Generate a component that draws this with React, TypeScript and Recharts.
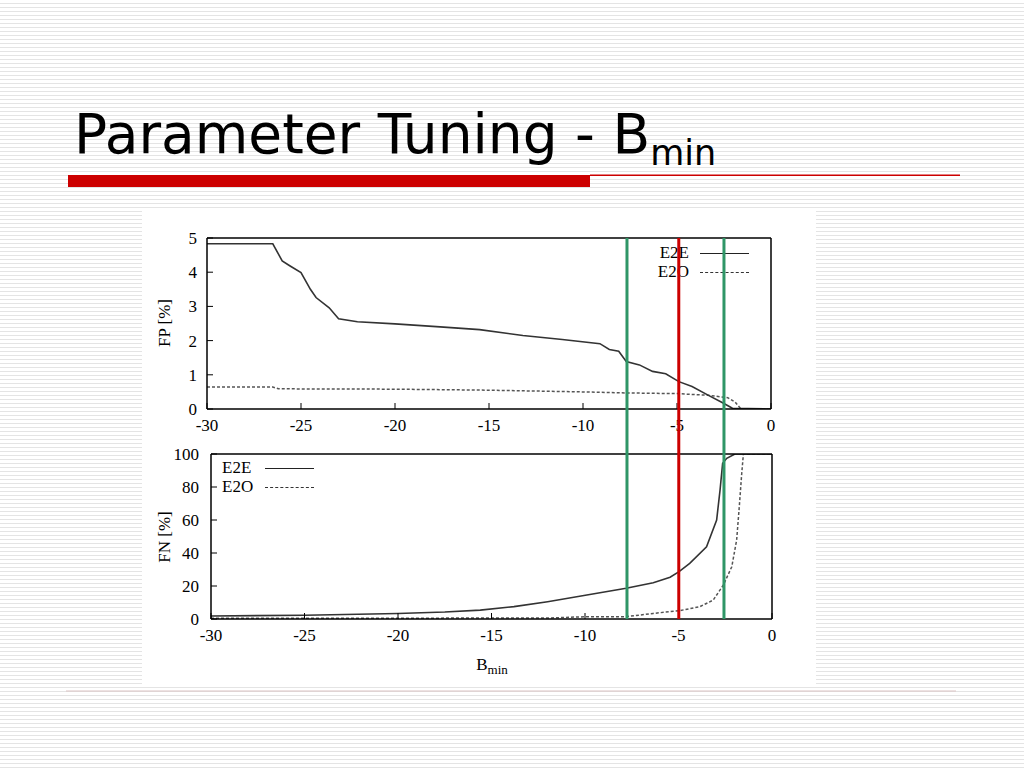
import React from 'react'
import { LineChart, Line, XAxis, YAxis, ReferenceLine } from 'recharts'

// x positions (B_min) shared tick labels
const xTicks = [-30, -25, -20, -15, -10, -5, 0]
const fpTicks = [0, 1, 2, 3, 4, 5]
const fnTicks = [0, 20, 40, 60, 80, 100]

// FP [%] panel
const fpE2eX = [-30, -26.5, -26, -25.6, -25, -24.5, -24.2, -23.5, -23, -22, -20, -17.6, -15.5, -13.2, -11.1, -9.1, -8.6, -8.1, -7.7, -7, -6.3, -5.6, -4.9, -4.2, -3.3, -2.6, -2.05, 0]
const fpE2e = [4.83, 4.83, 4.33, 4.19, 3.99, 3.5, 3.26, 2.96, 2.64, 2.55, 2.49, 2.4, 2.32, 2.15, 2.03, 1.91, 1.74, 1.69, 1.39, 1.29, 1.1, 1.03, 0.8, 0.66, 0.39, 0.19, 0.02, 0]
const fpE2oX = [-30, -26.5, -26.2, -20, -15, -10, -7.7, -5, -3.3, -2.3, -1.9, -1.6, 0]
const fpE2o = [0.64, 0.64, 0.59, 0.58, 0.55, 0.5, 0.47, 0.45, 0.4, 0.33, 0.2, 0, 0]

// FN [%] panel
const fnE2eX = [-30, -25, -20, -17.5, -15.6, -13.8, -12, -9.9, -7.8, -6.35, -5.45, -4.97, -4.4, -3.5, -2.96, -2.78, -2.64, -2.42, -1.98, 0]
const fnE2e = [1.8, 2.3, 3.3, 4.2, 5.4, 7.5, 10.5, 14.5, 18.6, 22, 25.3, 28.7, 33.7, 43.8, 60, 78, 94.4, 97.4, 100, 100]
const fnE2oX = [-30, -20, -12, -9.9, -7.8, -6.35, -4.97, -3.85, -3.14, -2.6, -2.15, -1.89, -1.75, -1.62, -1.53, 0]
const fnE2o = [0.5, 0.5, 0.6, 1.4, 1.4, 3.4, 5, 7.5, 11.5, 20.6, 31.7, 47.9, 68, 88, 100, 100]

// chosen thresholds drawn across both panels
const markerX = [-7.7, -4.95, -2.55]
const markerColors = ['#2f9667', '#cc0000', '#2f9667']

const zip = (xs: number[], ys: number[]) => xs.map((x, i) => ({ x, y: ys[i] }))

const serif = '"Liberation Serif", "DejaVu Serif", serif'
const tickStyle = { fontFamily: serif, fontSize: 17, fill: '#000' }
const axisLine = { stroke: '#000', strokeWidth: 1.5 }

function Panel({
  top, height, margin, leftWidth, yDomain, yTicks, yTickMargin, e2e, e2o,
}: {
  top: number
  height: number
  margin: { top: number; right: number; bottom: number; left: number }
  leftWidth: number
  yDomain: [number, number]
  yTicks: number[]
  yTickMargin: number
  e2e: { x: number; y: number }[]
  e2o: { x: number; y: number }[]
}) {
  return (
    <div style={{ position: 'absolute', left: 142, top, width: 676, height }}>
      <LineChart width={676} height={height} margin={margin}>
        <XAxis xAxisId="b" dataKey="x" type="number" domain={[-30, 0]} ticks={xTicks}
          allowDataOverflow height={28} tickSize={-6} tickMargin={16}
          axisLine={axisLine} tickLine={{ stroke: '#000' }} tick={tickStyle} />
        <XAxis xAxisId="t" orientation="top" dataKey="x" type="number" domain={[-30, 0]} ticks={xTicks}
          allowDataOverflow height={1} tickSize={-6} tick={false}
          axisLine={axisLine} tickLine={{ stroke: '#000' }} />
        <YAxis yAxisId="l" type="number" domain={yDomain} ticks={yTicks} allowDataOverflow
          width={leftWidth} tickSize={-6} tickMargin={yTickMargin}
          axisLine={axisLine} tickLine={{ stroke: '#000' }} tick={tickStyle} />
        <YAxis yAxisId="r" orientation="right" type="number" domain={yDomain} ticks={yTicks} allowDataOverflow
          width={1} tickSize={-6} tick={false}
          axisLine={axisLine} tickLine={{ stroke: '#000' }} />
        <Line xAxisId="b" yAxisId="l" data={e2o} dataKey="y" type="linear" stroke="#555"
          strokeWidth={1.5} strokeDasharray="3 2" dot={false} isAnimationActive={false} />
        <Line xAxisId="b" yAxisId="l" data={e2e} dataKey="y" type="linear" stroke="#333"
          strokeWidth={1.6} dot={false} isAnimationActive={false} />
      </LineChart>
    </div>
  )
}

function LegendRow({ x, y, label, dashed, align, gap }: { x: number; y: number; label: string; dashed?: boolean; align: 'left' | 'right'; gap: number }) {
  return (
    <div style={{ position: 'absolute', left: x, top: y - 10, height: 20, display: 'flex', alignItems: 'center',
      fontFamily: serif, fontSize: 17, color: '#000' }}>
      <span style={{ width: 36, textAlign: align }}>{label}</span>
      <span style={{ display: 'inline-block', width: 49, marginLeft: gap, borderTop: dashed ? '1.5px dashed #333' : '1.5px solid #222' }} />
    </div>
  )
}

export default function App() {
  const markerData = markerX.map((x) => ({ x, y: 0 }))
  return (
    <div style={{
      position: 'absolute', left: 0, top: 0, width: 1024, height: 768, overflow: 'hidden',
      background: 'repeating-linear-gradient(to bottom, #ffffff 0px, #ffffff 2.6px, #e4e4e4 2.6px, #e4e4e4 4px)',
    }}>
      <svg width={1024} height={768} style={{ position: 'absolute', left: 0, top: 0 }}>
        <text x={74} y={153} fontFamily='"DejaVu Sans", Verdana, sans-serif' fontSize={55} fill="#000">
          Parameter Tuning - B<tspan fontSize={35} dy={12}>min</tspan>
        </text>
        <rect x={68} y={175} width={522} height={12} fill="#cc0000" />
        <rect x={590} y={174.5} width={370} height={1.5} fill="#cc0000" />
        <rect x={66} y={690.5} width={890} height={1} fill="#dcc4c4" />
        <rect x={142} y={208} width={674} height={478} fill="#fff" />
      </svg>

      <Panel top={207} height={230} margin={{ top: 30, right: 46, bottom: 0, left: 0 }} leftWidth={65}
        yDomain={[0, 5]} yTicks={fpTicks} yTickMargin={16} e2e={zip(fpE2eX, fpE2e)} e2o={zip(fpE2oX, fpE2o)} />
      <Panel top={437} height={249} margin={{ top: 16, right: 45, bottom: 39, left: 0 }} leftWidth={69}
        yDomain={[0, 100]} yTicks={fnTicks} yTickMargin={18} e2e={zip(fnE2eX, fnE2e)} e2o={zip(fnE2oX, fnE2o)} />

      <LegendRow x={653} y={253} label="E2E" align="right" gap={11} />
      <LegendRow x={653} y={272} label="E2O" align="right" gap={11} dashed />
      <LegendRow x={222} y={468} label="E2E" align="left" gap={7} />
      <LegendRow x={222} y={487} label="E2O" align="left" gap={7} dashed />

      <div style={{ position: 'absolute', left: 165, top: 323, transform: 'translate(-50%, -50%) rotate(-90deg)',
        fontFamily: serif, fontSize: 17, whiteSpace: 'nowrap' }}>FP [%]</div>
      <div style={{ position: 'absolute', left: 165, top: 537, transform: 'translate(-50%, -50%) rotate(-90deg)',
        fontFamily: serif, fontSize: 17, whiteSpace: 'nowrap' }}>FN [%]</div>
      <div style={{ position: 'absolute', left: 492, top: 666, transform: 'translate(-50%, -50%)',
        fontFamily: serif, fontSize: 17, whiteSpace: 'nowrap' }}>B<sub style={{ fontSize: 13, verticalAlign: '-4px' }}>min</sub></div>

      <div style={{ position: 'absolute', left: 142, top: 207, width: 676, height: 430, pointerEvents: 'none' }}>
        <LineChart width={676} height={430} data={markerData} margin={{ top: 31, right: 46, bottom: 18, left: 65 }}>
          <XAxis dataKey="x" type="number" domain={[-30, 0]} hide />
          <YAxis type="number" domain={[0, 1]} hide />
          <Line dataKey="y" stroke="none" dot={false} isAnimationActive={false} />
          {markerX.map((x, i) => (
            <ReferenceLine key={x} x={x} stroke={markerColors[i]} strokeWidth={3} />
          ))}
        </LineChart>
      </div>
    </div>
  )
}
